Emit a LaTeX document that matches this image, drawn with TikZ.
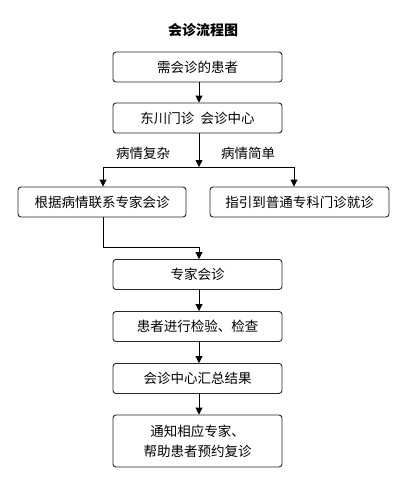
\documentclass[tikz,border=0pt]{standalone}
\usepackage{fontspec}
\setmainfont{Noto Sans CJK SC}
\usetikzlibrary{arrows.meta}
\begin{document}
\begin{tikzpicture}[x=1pt,y=-1pt,
  box/.style={draw=black!85,line width=0.9pt,rounded corners=3pt,fill=white,minimum height=30pt,inner sep=0pt,font=\fontsize{13.5pt}{20pt}\selectfont,align=center},
  arr/.style={line width=0.9pt,-{Triangle[length=7pt,width=7pt]}},
  ln/.style={line width=0.9pt},
  lbl/.style={font=\fontsize{13.5pt}{16pt}\selectfont}]
\useasboundingbox (0,0) rectangle (411,482);
\node[font=\fontsize{14pt}{16pt}\selectfont\bfseries] (title) at (203,30) {会诊流程图};
\node[box,minimum width=169pt] (b1) at (197.5,67) {需会诊的患者};
\node[box,minimum width=169pt] (b2) at (197.5,118) {东川门诊\ \ 会诊中心};
\node[box,minimum width=168pt] (b3) at (102,202) {根据病情联系专家会诊};
\node[box,minimum width=179pt] (b4) at (299.5,202) {指引到普通专科门诊就诊};
\node[box,minimum width=169pt] (b5) at (197.5,274.5) {专家会诊};
\node[box,minimum width=169pt] (b6) at (197.5,326.5) {患者进行检验、检查};
\node[box,minimum width=169pt] (b7) at (197.5,378.5) {会诊中心汇总结果};
\node[box,minimum width=169pt,minimum height=52pt] (b8) at (197.5,441) {通知相应专家、\\帮助患者预约复诊};
\node[lbl] (l1) at (143,153) {病情复杂};
\node[lbl] (l2) at (248,153) {病情简单};
\coordinate (j) at (199,167);
\coordinate (jl) at (103,167);
\coordinate (jr) at (294,167);
\coordinate (k) at (199,247);
\draw[arr] (b1.south -| j) -- (b2.north -| j);
\draw[arr] (b2.south -| j) -- (j);
\draw[ln] (jl) -- (jr);
\draw[arr] (jl) -- (jl |- b3.north);
\draw[arr] (jr) -- (jr |- b4.north);
\draw[ln] (b3.south -| jl) |- (k);
\draw[arr] (k) -- (k |- b5.north);
\draw[arr] (b5.south -| j) -- (b6.north -| j);
\draw[arr] (b6.south -| j) -- (b7.north -| j);
\draw[arr] (b7.south -| j) -- (b8.north -| j);
\end{tikzpicture}
\end{document}
